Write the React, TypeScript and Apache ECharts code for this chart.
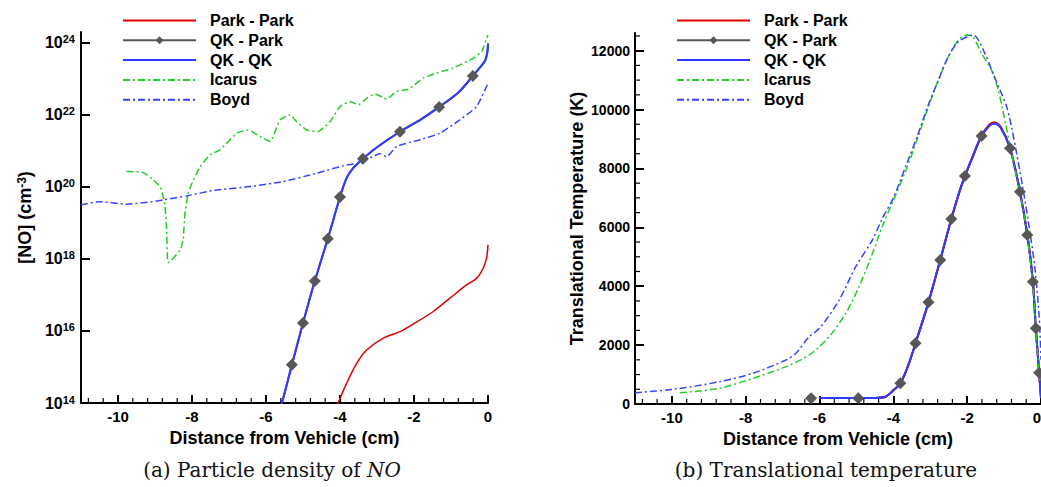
import React, { useEffect, useRef } from "react";
import * as echarts from "echarts";

const SANS = '"Liberation Sans", Arial, Helvetica, sans-serif';
const SERIF = '"DejaVu Serif", "Liberation Serif", serif';

const SERIES_NAMES = ["Park - Park", "QK - Park", "QK - QK", "Icarus", "Boyd"];
const X_TICKS = [-10, -8, -6, -4, -2, 0];
const NO_EXP_TICKS = [14, 16, 18, 20, 22, 24];
const T_TICKS = [0, 2000, 4000, 6000, 8000, 10000, 12000];

// minor tick positions: every 0.4 cm on x, every 500 K on the temperature axis
const X_MINOR_TICKS: number[] = [];
for (let k = -27; k <= 0; k++) {
  const v = Math.round(k * 4) / 10;
  if (Math.abs(v % 2) > 1e-9) X_MINOR_TICKS.push(v);
}
const T_MINOR_TICKS: number[] = [];
for (let v = 500; v <= 12500; v += 500) {
  if (v % 2000 !== 0) T_MINOR_TICKS.push(v);
}

// (a) [distance cm, log10 of NO density in cm^-3]
const noParkPark: number[][] = [
  [-4.15, 13.7], [-4.05, 14.0], [-3.82, 14.55], [-3.55, 15.1], [-3.28, 15.47],
  [-2.83, 15.8], [-2.38, 15.98], [-1.99, 16.21], [-1.48, 16.54], [-1.03, 16.91],
  [-0.58, 17.28], [-0.31, 17.46], [-0.13, 17.74], [-0.04, 18.02], [0, 18.39],
];
const noQkQk: number[][] = [
  [-5.75, 13.4], [-5.57, 14.0], [-5.3, 15.06], [-5.0, 16.22], [-4.68, 17.39],
  [-4.33, 18.56], [-4.0, 19.72], [-3.82, 20.25], [-3.64, 20.53], [-3.38, 20.78],
  [-3.0, 21.1], [-2.38, 21.53], [-1.8, 21.88], [-1.32, 22.22], [-0.8, 22.62],
  [-0.41, 23.08], [-0.22, 23.31], [-0.08, 23.5], [-0.02, 23.72], [0, 23.98],
];
const noQkParkMarkers: number[][] = [
  [-5.3, 15.06], [-5.0, 16.22], [-4.68, 17.39], [-4.33, 18.56], [-4.0, 19.72],
  [-3.38, 20.78], [-2.38, 21.53], [-1.32, 22.22], [-0.41, 23.08],
];
const noIcarus: number[][] = [
  [-9.77, 20.43], [-9.32, 20.4], [-9.05, 20.2], [-8.86, 20.0], [-8.78, 19.73],
  [-8.73, 19.5], [-8.69, 18.9], [-8.66, 17.97], [-8.64, 17.9], [-8.32, 18.25],
  [-8.24, 18.53], [-8.19, 19.27], [-8.1, 19.83], [-8.0, 20.1], [-7.78, 20.56],
  [-7.51, 20.89], [-7.24, 21.03], [-6.79, 21.49], [-6.48, 21.58], [-6.16, 21.4],
  [-5.89, 21.26], [-5.62, 21.86], [-5.35, 22.0], [-5.17, 21.81], [-4.9, 21.58],
  [-4.59, 21.54], [-4.27, 21.81], [-4.0, 22.23], [-3.73, 22.37], [-3.5, 22.28],
  [-3.28, 22.46], [-3.05, 22.58], [-2.74, 22.44], [-2.47, 22.65], [-2.15, 22.71],
  [-1.75, 23.02], [-1.39, 23.16], [-0.94, 23.3], [-0.4, 23.57], [-0.17, 23.76],
  [0, 24.22],
];
const noBoyd: number[][] = [
  [-11, 19.5], [-10.49, 19.59], [-9.76, 19.52], [-9.05, 19.59], [-8.78, 19.64],
  [-8.14, 19.75], [-7.42, 19.9], [-6.43, 20.01], [-5.53, 20.15], [-4.63, 20.38],
  [-3.82, 20.61], [-3.46, 20.66], [-2.92, 20.92], [-2.74, 20.84], [-2.47, 21.12],
  [-1.84, 21.31], [-1.3, 21.49], [-0.76, 21.86], [-0.31, 22.23], [0, 22.88],
];

// (b) [distance cm, translational temperature K]
const tParkPark: number[][] = [
  [-6.0, 200], [-5.0, 200], [-4.5, 205], [-4.21, 248], [-4.04, 419], [-3.81, 702],
  [-3.6, 1300], [-3.4, 2060], [-3.05, 3452], [-2.73, 4890], [-2.43, 6282],
  [-2.2, 7250], [-2.06, 7742], [-1.8, 8570], [-1.61, 9130], [-1.4, 9490],
  [-1.27, 9570], [-1.1, 9430], [-0.84, 8700], [-0.57, 7210], [-0.37, 5739],
  [-0.22, 4153], [-0.14, 2570], [-0.05, 1064], [0, 200],
];
const tQkQk: number[][] = [
  [-6.0, 200], [-5.0, 200], [-4.5, 205], [-4.21, 248], [-4.04, 419], [-3.81, 702],
  [-3.6, 1300], [-3.4, 2060], [-3.05, 3452], [-2.73, 4890], [-2.43, 6282],
  [-2.2, 7250], [-2.06, 7742], [-1.8, 8550], [-1.61, 9100], [-1.4, 9450],
  [-1.27, 9530], [-1.1, 9400], [-0.84, 8683], [-0.57, 7210], [-0.37, 5739],
  [-0.22, 4153], [-0.14, 2570], [-0.05, 1064], [0, 200],
];
const tQkParkMarkers: number[][] = [
  [-6.23, 194], [-4.95, 194], [-3.81, 702], [-3.4, 2060], [-3.05, 3452],
  [-2.73, 4890], [-2.43, 6282], [-2.06, 7742], [-1.61, 9100], [-0.84, 8683],
  [-0.57, 7210], [-0.37, 5739], [-0.22, 4153], [-0.14, 2570], [-0.05, 1064],
];
const tIcarus: number[][] = [
  [-9.78, 384], [-8.71, 532], [-7.81, 872], [-6.91, 1268], [-6.28, 1664],
  [-5.74, 2286], [-5.29, 3079], [-4.93, 3984], [-4.6, 5000], [-4.31, 6000],
  [-3.97, 7000], [-3.64, 8000], [-3.35, 9000], [-3.05, 10095], [-2.78, 11002],
  [-2.51, 11794], [-2.24, 12360], [-2.0, 12530], [-1.85, 12480], [-1.61, 11908],
  [-1.34, 11341], [-1.16, 10662], [-0.98, 9643], [-0.76, 8285], [-0.58, 7200],
  [-0.4, 6000], [-0.22, 4000], [-0.11, 2000], [-0.03, 800],
];
const tBoyd: number[][] = [
  [-11, 384], [-9.97, 499], [-8.71, 757], [-7.81, 1042], [-6.91, 1494],
  [-6.64, 1721], [-6.28, 2286], [-6.0, 2570], [-5.47, 3531], [-5.02, 4662],
  [-4.57, 5569], [-4.3, 6300], [-4.0, 7000], [-3.67, 8058], [-3.35, 9100],
  [-3.07, 10100], [-2.78, 11000], [-2.51, 11800], [-2.24, 12300], [-1.95, 12500],
  [-1.83, 12530], [-1.52, 11908], [-1.3, 11229], [-1.11, 10662], [-0.93, 10095],
  [-0.8, 9416], [-0.66, 8512], [-0.5, 7400], [-0.35, 6248], [-0.17, 4662],
  [-0.05, 2964], [0, 1500],
];

const RED = "#e00000";
const GREY = "#575757";
const BLUE = "#2e3cff";
const GREEN = "#1fcf1f";
const BOYD = "#3344ff";
const DASHDOT = [7, 3, 2, 3];

const axisLineStyle = { color: "#000", width: 2 };

function xAxisFor(gridIndex: number) {
  return {
    type: "value",
    gridIndex,
    position: "bottom",
    min: -11,
    max: 0,
    splitNumber: 5,
    name: "Distance from Vehicle (cm)",
    nameLocation: "middle",
    nameGap: 26,
    nameTextStyle: { fontFamily: SANS, fontSize: 18, fontWeight: "bold", color: "#000" },
    axisLine: { show: true, onZero: false, lineStyle: axisLineStyle },
    axisTick: { show: true, inside: true, length: 8, customValues: X_TICKS, lineStyle: { color: "#000", width: 2 } },
    axisLabel: {
      show: true, customValues: X_TICKS, margin: 6, fontFamily: SANS, fontSize: 15, fontWeight: "bold", color: "#000",
      alignMaxLabel: gridIndex === 1 ? "right" : undefined,
    },
    splitLine: { show: false },
  };
}

function lineSeries(name: string, data: number[][], idx: number, color: string, width: number, type: any, smooth: number, z = 2) {
  return {
    type: "line",
    name,
    data,
    xAxisIndex: idx,
    yAxisIndex: idx,
    symbol: "none",
    smooth,
    color,
    lineStyle: { color, width, type },
    z,
    silent: true,
  };
}

function greyLine(data: number[][], idx: number) {
  return {
    type: "line",
    name: "QK - Park",
    data,
    xAxisIndex: idx,
    yAxisIndex: idx,
    symbol: "diamond",
    showSymbol: false,
    smooth: 0.3,
    color: GREY,
    itemStyle: { color: GREY },
    lineStyle: { color: GREY, width: 2 },
    z: 1,
    silent: true,
  };
}

function markers(data: number[][], idx: number) {
  return {
    type: "scatter",
    name: "QK - Park",
    data,
    xAxisIndex: idx,
    yAxisIndex: idx,
    symbol: "diamond",
    symbolSize: 12,
    itemStyle: { color: GREY, opacity: 1 },
    z: 5,
    silent: true,
  };
}

// minor axis ticks drawn through the cartesian's own coord() mapping
function minorTicks(idx: number, points: number[][], dir: "up" | "right") {
  return {
    type: "custom",
    name: `minor-${idx}-${dir}`,
    xAxisIndex: idx,
    yAxisIndex: idx,
    silent: true,
    clip: false,
    z: 10,
    data: points,
    renderItem: (_params: any, api: any) => {
      const p = api.coord([api.value(0), api.value(1)]);
      const shape = dir === "up"
        ? { x1: p[0], y1: p[1], x2: p[0], y2: p[1] - 5 }
        : { x1: p[0], y1: p[1], x2: p[0] + 5, y2: p[1] };
      return { type: "line", shape, style: { stroke: "#000", lineWidth: 1.2 } };
    },
  };
}

function legendFor(left: number) {
  return {
    orient: "vertical",
    left,
    top: 12.5,
    padding: 0,
    itemWidth: 73,
    itemHeight: 10,
    itemGap: 3.8,
    selectedMode: false,
    textStyle: { fontFamily: SANS, fontSize: 16, fontWeight: "bold", color: "#000", padding: [0, 0, 0, 9] },
    data: SERIES_NAMES.map((n) => (n === "QK - Park" ? { name: n } : { name: n, itemStyle: { opacity: 0 } })),
  };
}

const option: any = {
  animation: false,
  backgroundColor: "#fff",
  grid: [
    { left: 81, top: 32, width: 407, height: 371, outerBoundsMode: "none", containLabel: false },
    { left: 635, top: 33, width: 406, height: 371, outerBoundsMode: "none", containLabel: false },
  ],
  legend: [legendFor(122), legendFor(676)],
  xAxis: [xAxisFor(0), xAxisFor(1)],
  yAxis: [
    {
      type: "value",
      gridIndex: 0,
      position: "left",
      min: 14,
      max: 24.3,
      interval: 2,
      name: "[NO] (cm{s|-3})",
      nameLocation: "middle",
      nameGap: 47,
      nameTextStyle: {
        fontFamily: SANS, fontSize: 18, fontWeight: "bold", color: "#000",
        rich: { s: { fontFamily: SANS, fontSize: 12, fontWeight: "bold", color: "#000", verticalAlign: "top", lineHeight: 12 } },
      },
      axisLine: { show: true, onZero: false, lineStyle: axisLineStyle },
      axisTick: { show: true, inside: true, length: 9, customValues: NO_EXP_TICKS, lineStyle: { color: "#000", width: 2 } },
      axisLabel: {
        show: true,
        customValues: NO_EXP_TICKS,
        margin: 6,
        formatter: (v: number) => `{b|10}{s|${Math.round(v)}}`,
        rich: {
          b: { fontFamily: SANS, fontSize: 16, fontWeight: "bold", color: "#000", lineHeight: 18 },
          s: { fontFamily: SANS, fontSize: 11, fontWeight: "bold", color: "#000", lineHeight: 11, verticalAlign: "top" },
        },
      },
      splitLine: { show: false },
    },
    {
      type: "value",
      gridIndex: 1,
      position: "left",
      min: 0,
      max: 12600,
      splitNumber: 6,
      name: "Translational Temperature (K)",
      nameLocation: "middle",
      nameGap: 49,
      nameTextStyle: { fontFamily: SANS, fontSize: 18, fontWeight: "bold", color: "#000" },
      axisLine: { show: true, onZero: false, lineStyle: axisLineStyle },
      axisTick: { show: true, inside: true, length: 9, customValues: T_TICKS, lineStyle: { color: "#000", width: 2 } },
      axisLabel: {
        show: true, customValues: T_TICKS, margin: 5, fontFamily: SANS, fontSize: 14, fontWeight: "bold", color: "#000",
        formatter: (v: number) => String(Math.round(v)),
      },
      splitLine: { show: false },
    },
  ],
  series: [
    lineSeries("Park - Park", noParkPark, 0, RED, 1.5, "solid", 0.3),
    greyLine(noQkQk, 0),
    lineSeries("QK - QK", noQkQk, 0, BLUE, 2, "solid", 0.3),
    lineSeries("Icarus", noIcarus, 0, GREEN, 1.5, DASHDOT, 0.15),
    lineSeries("Boyd", noBoyd, 0, BOYD, 1.5, DASHDOT, 0.2),
    markers(noQkParkMarkers, 0),
    lineSeries("Park - Park", tParkPark, 1, RED, 2, "solid", 0.3),
    greyLine(tQkQk, 1),
    lineSeries("QK - QK", tQkQk, 1, BLUE, 2, "solid", 0.3),
    lineSeries("Icarus", tIcarus, 1, GREEN, 1.5, DASHDOT, 0.3),
    lineSeries("Boyd", tBoyd, 1, BOYD, 1.5, DASHDOT, 0.3),
    markers(tQkParkMarkers, 1),
    minorTicks(0, X_MINOR_TICKS.map((v) => [v, 14]), "up"),
    minorTicks(1, X_MINOR_TICKS.map((v) => [v, 0]), "up"),
    minorTicks(1, T_MINOR_TICKS.map((v) => [-11, v]), "right"),
  ],
  graphic: [
    {
      type: "text",
      x: 272,
      y: 470,
      silent: true,
      style: {
        text: "(a) Particle density of {i|NO}",
        fontFamily: SERIF,
        fontSize: 20,
        fill: "#111",
        align: "center",
        verticalAlign: "middle",
        rich: { i: { fontFamily: SERIF, fontSize: 20, fontStyle: "italic", fill: "#111" } },
      },
    },
    {
      type: "text",
      x: 826,
      y: 470,
      silent: true,
      style: {
        text: "(b) Translational temperature",
        fontFamily: SERIF,
        fontSize: 20,
        fill: "#111",
        align: "center",
        verticalAlign: "middle",
      },
    },
  ],
};

export default function App() {
  const ref = useRef<HTMLDivElement>(null);
  useEffect(() => {
    const el = ref.current;
    if (!el) return;
    const chart = echarts.init(el, undefined, { renderer: "svg" });
    chart.setOption(option);
    return () => chart.dispose();
  }, []);
  return (
    <div
      ref={ref}
      style={{ position: "fixed", left: 0, top: 0, width: 1041, height: 487, background: "#fff" }}
    />
  );
}
